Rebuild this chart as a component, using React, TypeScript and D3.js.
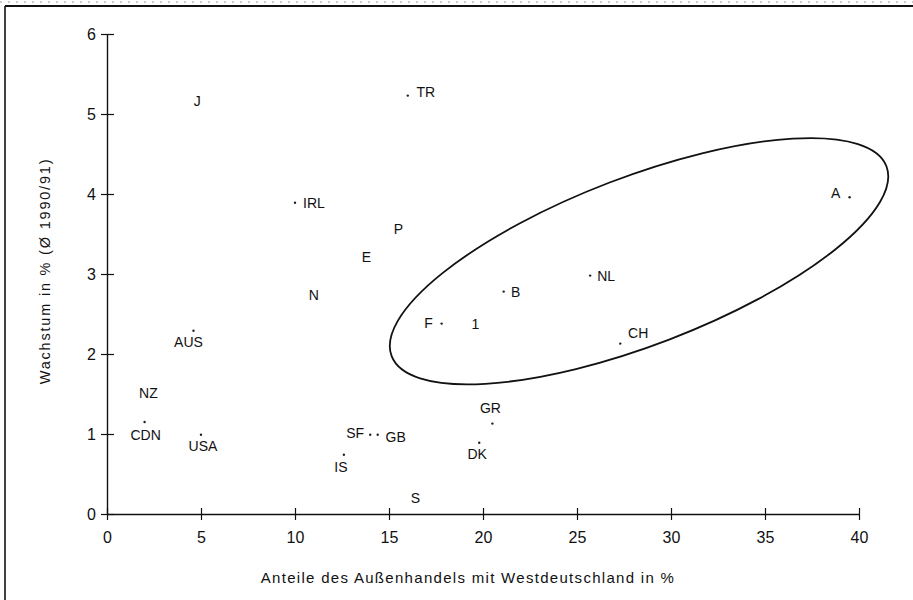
import React, { useEffect, useRef } from 'react'
import { scaleLinear, select, axisBottom, axisLeft, format } from 'd3'

// countries, trade share with West Germany (%) and growth (%, avg 1990/91)
const countries = ['J', 'TR', 'IRL', 'P', 'E', 'N', 'AUS', 'NZ', 'CDN', 'USA', 'SF', 'GB', 'IS', 'S',
  'F', 'I', 'B', 'NL', 'A', 'CH', 'GR', 'DK']
const tradeShare = [4.8, 16.0, 10.0, 15.5, 13.8, 11.0, 4.6, 2.2, 2.0, 5.0, 14.0, 14.4, 12.6, 16.4,
  17.8, 19.6, 21.1, 25.7, 39.5, 27.3, 20.5, 19.8]
const growth = [5.16, 5.23, 3.89, 3.56, 3.21, 2.74, 2.29, 1.51, 1.15, 0.99, 0.99, 0.99, 0.74, 0.2,
  2.38, 2.38, 2.78, 2.98, 3.96, 2.13, 1.13, 0.89]

// labels that sit on the point itself, without a dot
const unmarked = ['J', 'P', 'E', 'N', 'NZ', 'S', 'I']
const labelText: Record<string, string> = { I: '1' }
// label offsets from the dot, pixels
const labelOffset: Record<string, [number, number]> = {
  TR: [18, -4], IRL: [19, 0], AUS: [-5, 11], CDN: [1, 13], USA: [2, 11], SF: [-15, -2],
  GB: [18, 2], IS: [-3, 12], F: [-13, -1], B: [12, 0], NL: [16, 0], A: [-14, -4],
  CH: [18, -11], GR: [-2, -16], DK: [-2, 11],
}

const xTicks = [0, 5, 10, 15, 20, 25, 30, 35, 40]
const yTicks = [0, 1, 2, 3, 4, 5, 6]

// ellipse grouping the neighbouring countries
const ringCenter = [28.3, 3.16]
const ringRadius = [265, 84]
const ringAngle = -21

const W = 913, H = 600
const margin = { top: 34, right: 54, bottom: 86, left: 107 }
const font = '"Liberation Sans", Arial, sans-serif'

export default function App() {
  const axesRef = useRef<SVGGElement>(null)

  const xScale = scaleLinear().domain([0, 40]).range([margin.left, W - margin.right])
  const yScale = scaleLinear().domain([0, 6]).range([H - margin.bottom, margin.top])

  useEffect(() => {
    const g = select(axesRef.current)
    g.selectAll('*').remove()

    const xa = g.append('g')
      .attr('transform', `translate(0,${yScale(0)})`)
      .call(axisBottom(xScale).tickValues(xTicks).tickFormat(format('d'))
        .tickSizeInner(6).tickSizeOuter(0).tickPadding(12))
    xa.selectAll('.tick line').attr('y1', -6)

    const ya = g.append('g')
      .attr('transform', `translate(${xScale(0)},0)`)
      .call(axisLeft(yScale).tickValues(yTicks).tickFormat(format('d'))
        .tickSizeInner(6).tickSizeOuter(0).tickPadding(5))
    ya.selectAll('.tick line').attr('x1', 7)

    g.selectAll('.domain').attr('stroke', '#111').attr('stroke-width', 1.4)
    g.selectAll('.tick line').attr('stroke', '#111').attr('stroke-width', 1.2)
    g.selectAll('.tick text')
      .attr('fill', '#111')
      .style('font-family', font)
      .style('font-size', '16px')
  }, [])

  const [cx, cy] = [xScale(ringCenter[0]), yScale(ringCenter[1])]

  return (
    <svg width={W} height={H} style={{ position: 'absolute', left: 0, top: 0, background: '#fff' }}>
      {/* scan frame */}
      <line x1={0} x2={W} y1={2} y2={2} stroke="#999" strokeWidth={1} strokeDasharray="2 6" />
      <line x1={5} x2={W} y1={6} y2={6} stroke="#111" strokeWidth={2} />
      <line x1={5} x2={5} y1={6} y2={H} stroke="#111" strokeWidth={1.6} />

      <g ref={axesRef} />

      <ellipse cx={cx} cy={cy} rx={ringRadius[0]} ry={ringRadius[1]}
        transform={`rotate(${ringAngle},${cx},${cy})`}
        fill="none" stroke="#111" strokeWidth={1.8} />

      <g fontFamily={font} fontSize={14} fill="#111">
        {countries.map((c, i) => {
          const px = xScale(tradeShare[i])
          const py = yScale(growth[i])
          const isBare = unmarked.includes(c)
          const [dx, dy] = isBare ? [0, 0] : labelOffset[c]
          return (
            <g key={c}>
              {!isBare && <circle cx={px} cy={py} r={1.2} fill="#222" />}
              <text x={px + dx} y={py + dy} dy="0.36em" textAnchor="middle">{labelText[c] ?? c}</text>
            </g>
          )
        })}
      </g>

      <text x={468} y={583} textAnchor="middle" fontFamily={font} fontSize={15}
        letterSpacing={1.3} fill="#111">
        Anteile des Außenhandels mit Westdeutschland in %
      </text>
      <text transform={`translate(50,271) rotate(-90)`} textAnchor="middle" fontFamily={font}
        fontSize={14.5} letterSpacing={1.8} fill="#111">
        Wachstum in % (Ø 1990/91)
      </text>
    </svg>
  )
}
